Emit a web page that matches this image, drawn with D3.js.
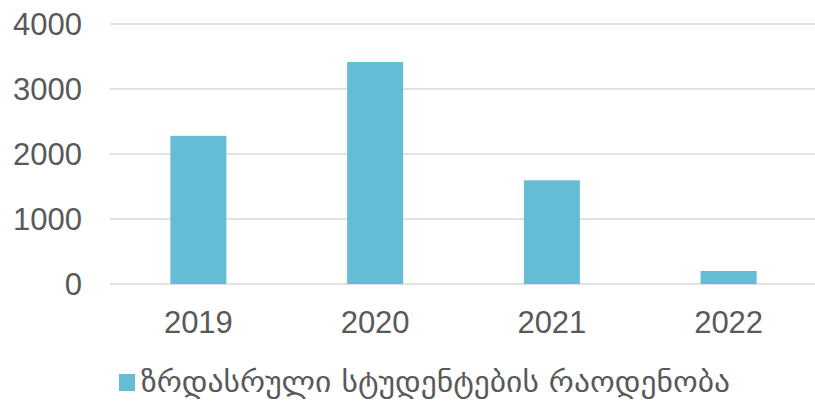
<!DOCTYPE html>
<html lang="ka">
<head>
<meta charset="utf-8">
<title>ზრდასრული სტუდენტების რაოდენობა</title>
<style>
body { margin: 0; background: #fff; font-family: "Liberation Sans", Arial, sans-serif; }
.grid line { stroke: #d9d9d9; stroke-width: 1.5; }
.lbl { fill: #595959; font-size: 31px; }
</style>
<script src="https://d3js.org/d3.v7.min.js"></script>
</head>
<body>
<div id="chart"></div>
<script>
const years = ["2019", "2020", "2021", "2022"];
const students = [2280, 3415, 1595, 200];
const yTicks = [0, 1000, 2000, 3000, 4000];
const seriesName = "ზრდასრული სტუდენტების რაოდენობა";

const width = 815, height = 403;
const svg = d3.select("#chart").append("svg")
    .attr("width", width)
    .attr("height", height);

const x = d3.scaleBand().domain(years).range([110, 817]).paddingInner(0.683).paddingOuter(0.3415);
const y = d3.scaleLinear().domain([0, 4000]).range([284, 24]);

// gridlines
svg.append("g").attr("class", "grid")
  .selectAll("line").data(yTicks).enter().append("line")
    .attr("x1", 110).attr("x2", 815)
    .attr("y1", d => y(d)).attr("y2", d => y(d));

// y labels
svg.append("g").selectAll("text").data(yTicks).enter().append("text")
    .attr("class", "lbl")
    .attr("x", 82)
    .attr("y", d => y(d) + 11)
    .attr("text-anchor", "end")
    .text(d => d);

// bars
svg.append("g").selectAll("rect").data(students).enter().append("rect")
    .attr("x", (d, i) => x(years[i]))
    .attr("width", x.bandwidth())
    .attr("y", d => y(d))
    .attr("height", d => y(0) - y(d))
    .attr("fill", "#65bcd5");

// x labels
svg.append("g").selectAll("text").data(years).enter().append("text")
    .attr("class", "lbl")
    .attr("x", d => x(d) + x.bandwidth() / 2)
    .attr("y", 333)
    .attr("text-anchor", "middle")
    .text(d => d);

// legend
svg.append("rect").attr("x", 119).attr("y", 374).attr("width", 16).attr("height", 17).attr("fill", "#65bcd5");
svg.append("text")
    .attr("class", "lbl")
    .attr("x", 141).attr("y", 392)
    .style("font-family", "'DejaVu Sans', sans-serif")
    .style("font-size", "29px")
    .attr("textLength", 589)
    .attr("lengthAdjust", "spacingAndGlyphs")
    .text(seriesName);
</script>
</body>
</html>
